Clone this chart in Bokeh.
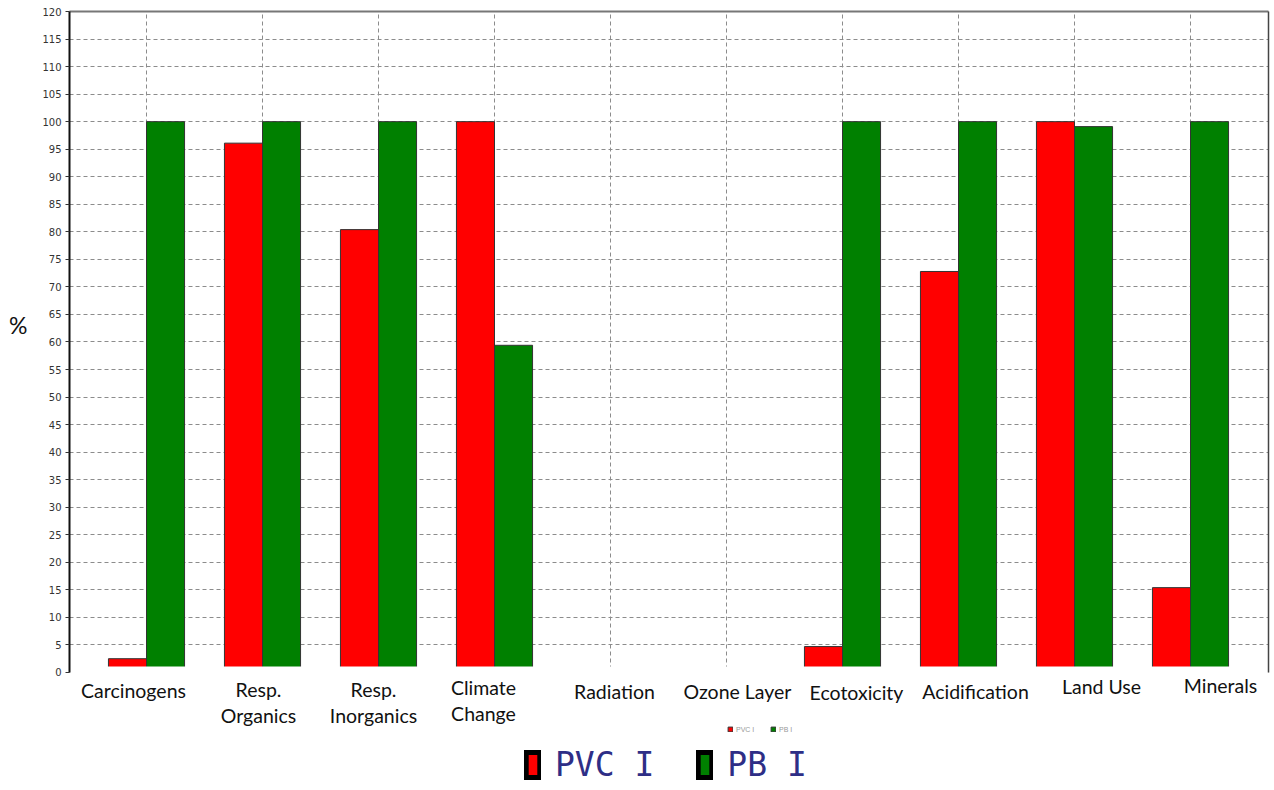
from bokeh.plotting import figure
from bokeh.models import (FixedTicker, LinearAxis, Legend, LegendItem,
                          ColumnDataSource, Range1d, BoxAnnotation)
from bokeh.core.properties import value
from bokeh.transform import dodge
from bokeh.embed import file_html
from bokeh.resources import INLINE

categories = ["Carcinogens", "Resp. Organics", "Resp. Inorganics", "Climate Change",
              "Radiation", "Ozone Layer", "Ecotoxicity", "Acidification",
              "Land Use", "Minerals"]
tick_labels = ["Carcinogens", "Resp.\nOrganics", "Resp.\nInorganics", "Climate\nChange",
               "Radiation", "Ozone Layer", "Ecotoxicity", "Acidification",
               "Land Use", "Minerals"]
series_names = ["PVC I", "PB I"]
pvc = [2.5, 96.1, 80.4, 100, 0, 0, 4.7, 72.8, 100, 15.4]
pb = [100, 100, 100, 59.4, 0, 0, 100, 100, 99.1, 100]
y_ticks = list(range(0, 121, 5))

# layout constants (pixels)
W, H = 1270, 788
LEFT, RIGHT, TOP, BOTTOM = 69, 2, 11, 0
PX_PER_UNIT_Y = 5.508
PX_PER_CAT = 116.0
FIRST_CENTER_PX = 77.0
COVER_PX = 6.0
LABEL_TOP_PX = 7.0
label_dx_px = [-13, -4, -5, -11, 4, 11, 14, 17, 27, 30]
label_dy_px = [0, -1, -1, -3, 1, 1, 2, 1, -4, -5]

frame_w = W - LEFT - RIGHT
frame_h = H - TOP - BOTTOM
y_end = max(y_ticks)
y_start = y_end - frame_h / PX_PER_UNIT_Y
x_start = -FIRST_CENTER_PX / PX_PER_CAT
x_end = x_start + frame_w / PX_PER_CAT

idx = list(range(len(categories)))
src = ColumnDataSource(dict(x=idx, pvc=pvc, pb=pb))
lab_src = ColumnDataSource(dict(x=idx, lab=tick_labels,
                                ly=[-LABEL_TOP_PX / PX_PER_UNIT_Y] * len(idx),
                                dx=label_dx_px, dy=label_dy_px))

p = figure(width=W, height=H, output_backend="svg", toolbar_location=None,
           x_range=Range1d(x_start, x_end), y_range=Range1d(y_start, y_end),
           min_border_left=LEFT, min_border_right=RIGHT, min_border_top=TOP,
           min_border_bottom=BOTTOM, x_axis_location=None)
p.outline_line_color = None
p.background_fill_color = "white"

# grids
p.xgrid.ticker = FixedTicker(ticks=idx)
p.ygrid.ticker = FixedTicker(ticks=y_ticks)
for g in (p.xgrid[0], p.ygrid[0]):
    g.grid_line_color = "#8c8c8c"
    g.grid_line_dash = "4 3"
    g.grid_line_width = 1

bw = 0.328
r_pvc = p.vbar(x=dodge("x", -bw / 2, range=p.x_range), top="pvc", width=bw, source=src,
               fill_color="#ff0000", line_color="#333333", line_width=1)
r_pb = p.vbar(x=dodge("x", bw / 2, range=p.x_range), top="pb", width=bw, source=src,
              fill_color="#008000", line_color="#333333", line_width=1)

# white band under the value area (as in the source image)
cover = BoxAnnotation(top=COVER_PX / PX_PER_UNIT_Y, fill_color="white", fill_alpha=1.0,
                      line_alpha=0, level="glyph")
p.renderers.append(cover)

# category labels
p.text(x="x", y="ly", text="lab", source=lab_src, x_offset="dx", y_offset="dy",
       text_align="center", text_baseline="top",
       text_font=value("Lato"), text_font_size="19.5px", text_color="#111111",
       text_line_height=1.1)

# y axis
ya = p.yaxis[0]
ya.ticker = FixedTicker(ticks=y_ticks)
ya.bounds = (0, y_end)
ya.axis_line_color = "#111111"
ya.axis_line_width = 2
ya.major_tick_line_color = "#333333"
ya.major_tick_out = 4
ya.major_tick_in = 0
ya.minor_tick_line_color = None
ya.major_label_text_font = "DejaVu Sans"
ya.major_label_text_font_size = "10px"
ya.major_label_text_color = "#333333"
ya.major_label_standoff = 4
ya.axis_label = "%\n \n \n \n \n "
ya.axis_label_orientation = "horizontal"
ya.axis_label_text_font = "Lato"
ya.axis_label_text_font_style = "normal"
ya.axis_label_text_font_size = "23px"
ya.axis_label_text_line_height = 1.07
ya.axis_label_text_color = "#111111"
ya.axis_label_standoff = 12

# frame borders
top_ax = LinearAxis(ticker=FixedTicker(ticks=[]), axis_line_color="#777777", axis_line_width=2,
                    major_tick_line_color=None, minor_tick_line_color=None,
                    major_tick_out=0, major_label_standoff=0,
                    major_label_text_font_size="0px")
p.add_layout(top_ax, "above")
right_ax = LinearAxis(ticker=FixedTicker(ticks=[]), axis_line_color="#444444", axis_line_width=1.5,
                      major_tick_line_color=None, minor_tick_line_color=None,
                      major_tick_out=0, major_label_standoff=0, bounds=(0, y_end),
                      major_label_text_font_size="0px")
p.add_layout(right_ax, "right")

# tiny legend
tiny = Legend(items=[LegendItem(label=series_names[0], renderers=[r_pvc]),
                     LegendItem(label=series_names[1], renderers=[r_pb])],
              orientation="horizontal", location=(658, 55),
              glyph_width=6, glyph_height=6, label_text_font_size="7px",
              label_text_color="#999999", label_height=8, label_standoff=3,
              spacing=14, padding=0, margin=0, border_line_color=None,
              background_fill_alpha=0)
p.add_layout(tiny)

# big legend (hidden renderers used only for the swatches)
d1 = p.vbar(x="x", top="pvc", width=bw, source=src, visible=False,
            fill_color="#ff0000", line_color="black", line_width=5, line_join="miter")
d2 = p.vbar(x="x", top="pb", width=bw, source=src, visible=False,
            fill_color="#008000", line_color="black", line_width=5, line_join="miter")
big = Legend(items=[LegendItem(label=series_names[0], renderers=[d1]),
                    LegendItem(label=series_names[1], renderers=[d2])],
             orientation="horizontal", location=(455, 4),
             glyph_width=17, glyph_height=31, label_text_font="DejaVu Sans Mono",
             label_text_font_size="33px", label_text_color="#2e2e86",
             label_height=33, label_standoff=14, spacing=42, padding=0, margin=0,
             border_line_color=None, background_fill_alpha=0,
             inactive_fill_alpha=0, click_policy="none")
p.add_layout(big)

open("out.html", "w").write(file_html(p, INLINE))
